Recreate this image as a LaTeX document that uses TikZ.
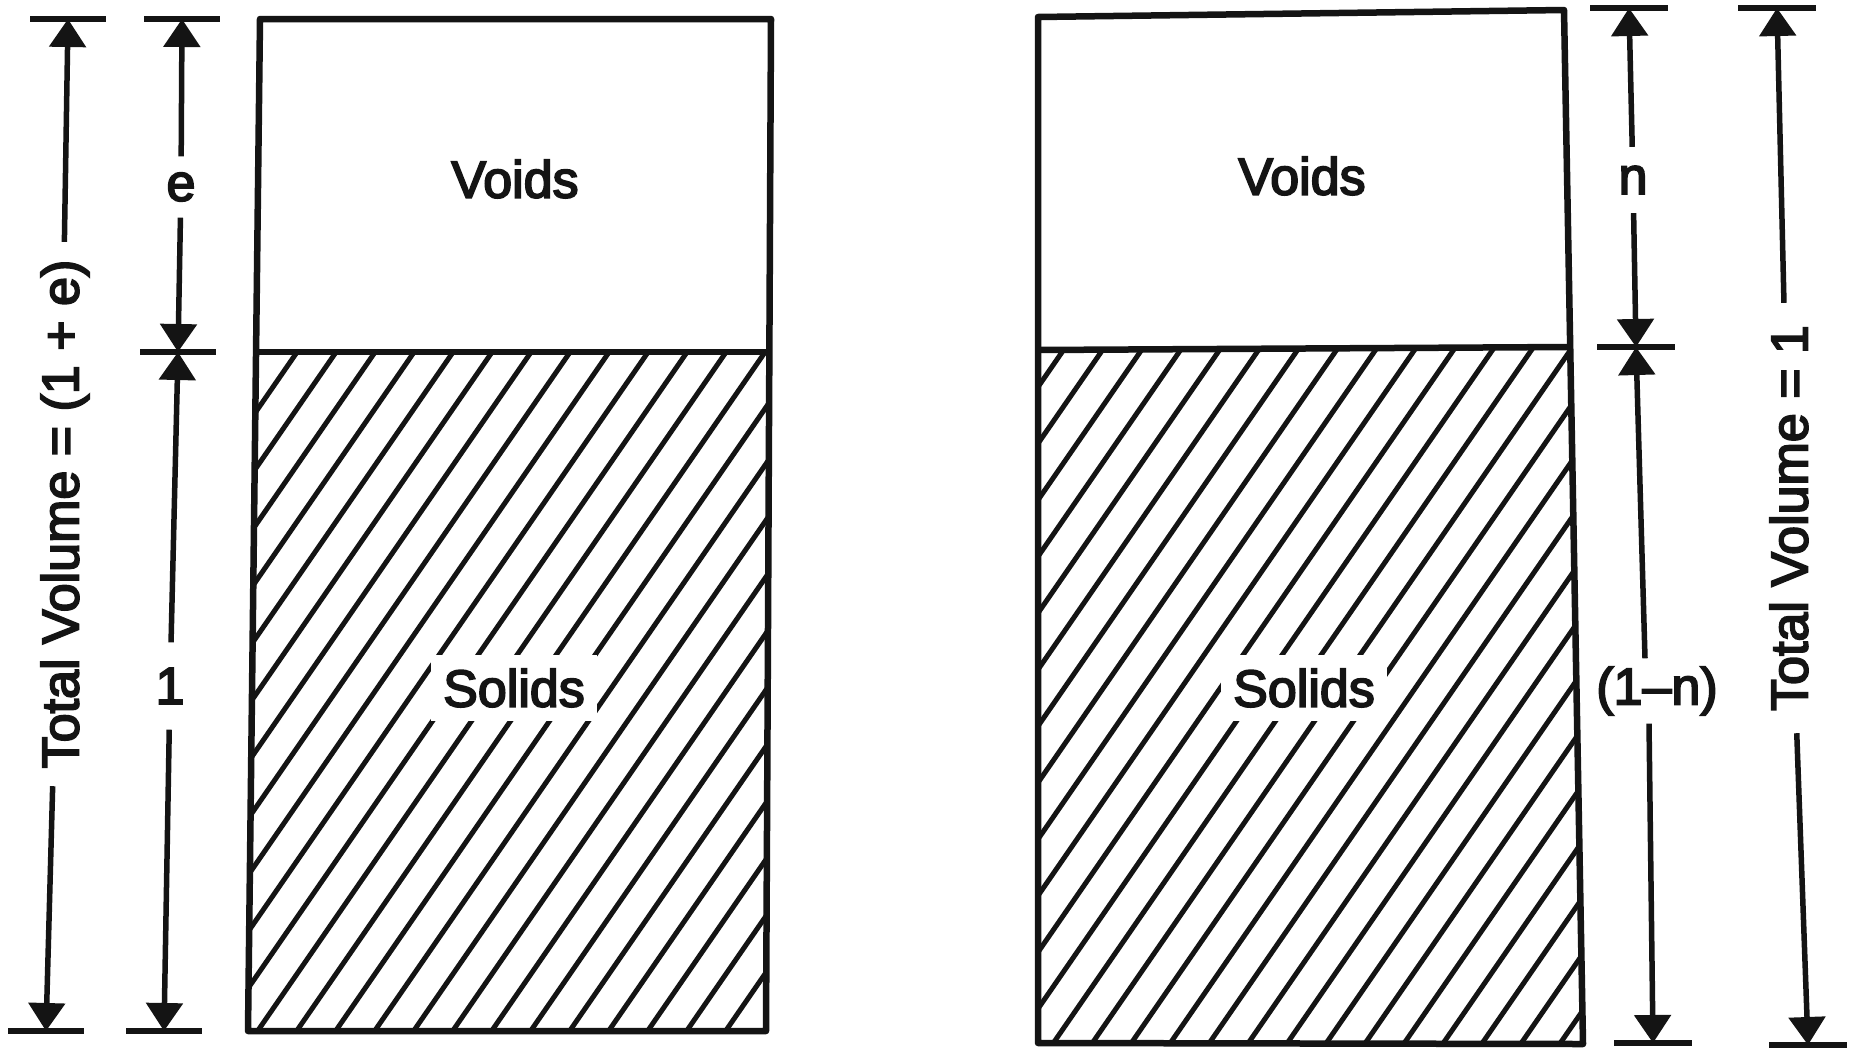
\documentclass[tikz,border=0pt]{standalone}
\usepackage{fontspec}
\newfontfamily\lblfont{Liberation Sans}[FakeBold=3.5]
\usetikzlibrary{arrows.meta}
\definecolor{ink}{HTML}{141414}
\begin{document}
\begin{tikzpicture}[x=1pt, y=-1pt,
  outline/.style={draw=ink, line width=6.5pt, line join=round},
  hatchline/.style={draw=ink, line width=5pt},
  tickline/.style={draw=ink, line width=6.5pt},
  dimline/.style={draw=ink, line width=5.5pt, -{Triangle[width=36pt,length=28pt]}},
  lbl/.style={text=ink, font=\lblfont\fontsize{52pt}{60pt}\selectfont, inner sep=0pt},
  sidelbl/.style={lbl, rotate=90, text height=37pt, text depth=0pt},
  solidlbl/.style={lbl, fill=white, inner xsep=12pt, inner ysep=14pt},
]
\fill[white] (0,0) rectangle (1854,1053);
\useasboundingbox (0,0) rectangle (1854,1053);

% ---------- left column: void ratio e ----------
\coordinate (LTL) at (260,19);
\coordinate (LTR) at (771,19);
\coordinate (LBR) at (766,1031);
\coordinate (LBL) at (248,1031);
\coordinate (LML) at (256,352);
\coordinate (LMR) at (769,352);

\begin{scope}
  \clip (LML) -- (LMR) -- (LBR) -- (LBL) -- cycle;
  \foreach \m in {-15,...,12}
    \draw[hatchline] ({930-39*\m},0) -- ++(-759,1100);
\end{scope}
\draw[outline] (LTL) -- (LTR) -- (LBR) -- (LBL) -- cycle;
\draw[outline] (LML) -- (LMR);
\node[lbl] (voidsL) at (515,179) {Voids};
\node[solidlbl] (solidsL) at (514,688) {Solids};

% dimension lines, left
\coordinate (tA1) at (68,19);
\coordinate (bA1) at (46,1031);
\coordinate (tA2) at (182,19);
\coordinate (mA2) at (178,352);
\coordinate (bA2) at (164,1031);
\foreach \p in {tA1,bA1,tA2,mA2,bA2}
  \draw[tickline] ([xshift=-38pt]\p) -- ([xshift=38pt]\p);

\node[sidelbl, minimum width=544pt] (totL) at (60,514) {Total Volume = (1 + e)};
\node[lbl, minimum height=61pt] (eL) at (181,187) {e};
\node[lbl, minimum height=87pt] (oneL) at (170,686) {1};

\draw[dimline] (totL) -- (tA1);
\draw[dimline] (totL) -- (bA1);
\draw[dimline] (eL) -- (tA2);
\draw[dimline] (eL) -- (mA2);
\draw[dimline] (oneL) -- (mA2);
\draw[dimline] (oneL) -- (bA2);

% ---------- right column: porosity n ----------
\coordinate (RTL) at (1038,17);
\coordinate (RTR) at (1564,10);
\coordinate (RBR) at (1583,1044);
\coordinate (RBL) at (1038,1043);
\coordinate (RML) at (1038,350);
\coordinate (RMR) at (1570,347);

\begin{scope}
  \clip (RML) -- (RMR) -- (RBR) -- (RBL) -- cycle;
  \foreach \m in {-1,...,26}
    \draw[hatchline] ({2280-39*\m},0) -- ++(-759,1100);
\end{scope}
\draw[outline] (RTL) -- (RTR) -- (RBR) -- (RBL) -- cycle;
\draw[outline] (RML) -- (RMR);
\node[lbl] (voidsR) at (1302,176) {Voids};
\node[solidlbl] (solidsR) at (1304,688) {Solids};

% dimension lines, right
\coordinate (tN) at (1629,8);
\coordinate (mN) at (1636,347);
\coordinate (bN) at (1653,1043);
\coordinate (tT) at (1777,8);
\coordinate (bT) at (1808,1045);
\foreach \p in {tN,mN,bN,tT,bT}
  \draw[tickline] ([xshift=-39pt]\p) -- ([xshift=39pt]\p);

\node[lbl, minimum height=66pt] (nR) at (1633,180) {n};
\node[lbl, minimum height=65pt] (omnR) at (1657,691) {(1–n)};
\node[sidelbl, minimum width=430pt] (totR) at (1789,518) {Total Volume = 1};

\draw[dimline] (nR) -- (tN);
\draw[dimline] (nR) -- (mN);
\draw[dimline] ([xshift=-12pt]omnR.north) -- (mN);
\draw[dimline] ([xshift=-8pt]omnR.south) -- (bN);
\draw[dimline] (totR) -- (tT);
\draw[dimline] (totR) -- (bT);
\end{tikzpicture}
\end{document}
